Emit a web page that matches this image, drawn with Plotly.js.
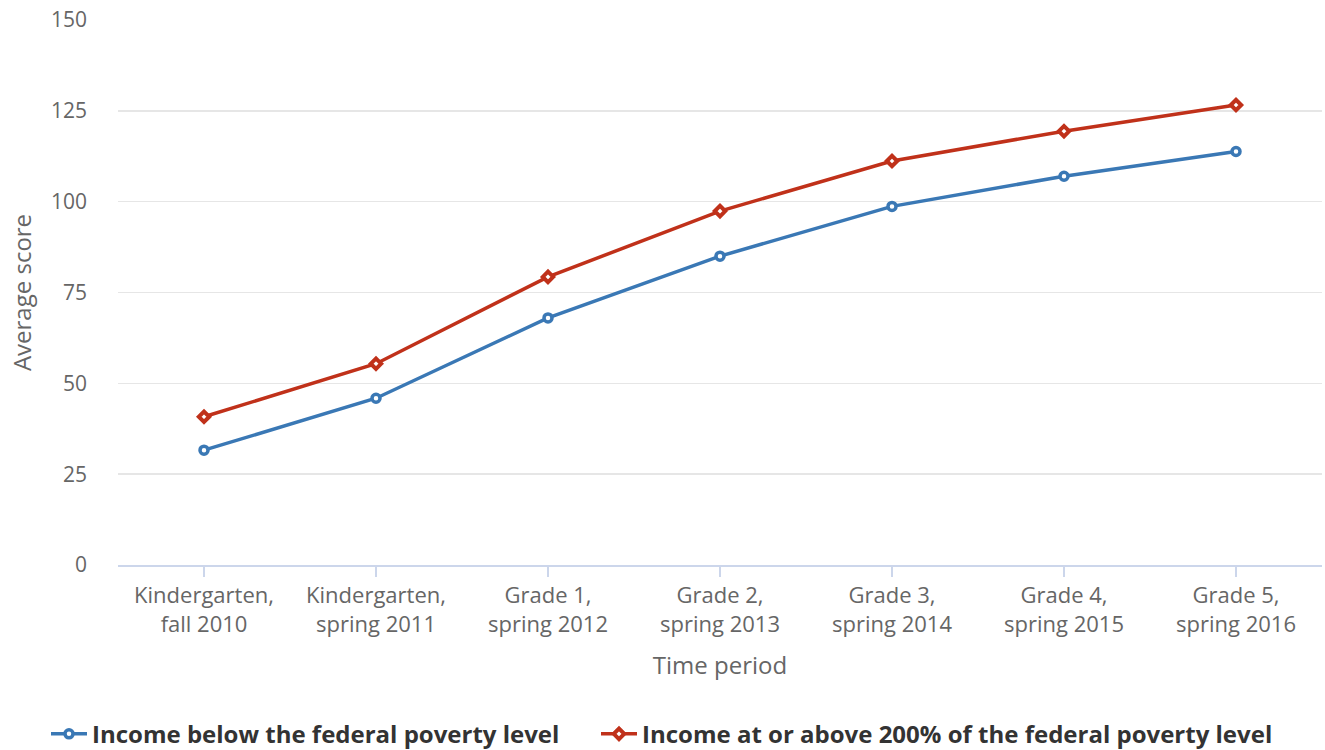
<!DOCTYPE html>
<html><head><meta charset="utf-8">
<script src="https://cdn.plot.ly/plotly-3.0.1.min.js"></script>
<style>body{margin:0;background:#fff}#c{width:1325px;height:750px}</style>
</head><body><div id="c"></div>
<script>
const categories = ["Kindergarten,<br>fall 2010","Kindergarten,<br>spring 2011","Grade 1,<br>spring 2012","Grade 2,<br>spring 2013","Grade 3,<br>spring 2014","Grade 4,<br>spring 2015","Grade 5,<br>spring 2016"];
const belowPoverty = [31.6, 45.9, 68.0, 85.0, 98.7, 107.0, 113.8];
const above200 = [40.8, 55.4, 79.3, 97.4, 111.2, 119.4, 126.6];
const seriesNames = ["Income below the federal poverty level","Income at or above 200% of the federal poverty level"];
const yTicks = [0,25,50,75,100,125,150];

const traces = [
 {x: categories, y: belowPoverty, name: seriesNames[0], type:'scatter', mode:'lines+markers', legend:'legend',
  line:{color:'#3a78b5', width:3.5},
  marker:{symbol:'circle', size:8, color:'#ffffff', line:{color:'#3a78b5', width:3.5}}},
 {x: categories, y: above200, name: seriesNames[1], type:'scatter', mode:'lines+markers', legend:'legend2',
  line:{color:'#c0311a', width:3.5},
  marker:{symbol:'diamond', size:8, color:'#ffffff', line:{color:'#c0311a', width:4}}}
];
const legendFont = {size:24, color:'#333333', weight:'bold'};
const layout = {
 width:1325, height:750,
 margin:{l:118, r:3, t:20, b:185},
 paper_bgcolor:'#fff', plot_bgcolor:'#fff',
 font:{family:'"Open Sans", sans-serif', color:'#666666', size:21},
 showlegend:true,
 legend:{orientation:'h', x:46/1325, xanchor:'left', xref:'container', y:0.021, yanchor:'middle', yref:'container',
   font:legendFont, itemwidth:36},
 legend2:{orientation:'h', x:596/1325, xanchor:'left', xref:'container', y:0.021, yanchor:'middle', yref:'container',
   font:legendFont, itemwidth:36},
 xaxis:{type:'category', range:[-0.5,6.5], showgrid:false, zeroline:false,
   showline:true, linecolor:'#ccd6eb', linewidth:1.5,
   ticks:'outside', ticklen:10, tickcolor:'#ccd6eb', tickwidth:1.5,
   tickfont:{size:22, color:'#666666'},
   title:{text:'Time period', font:{size:24, color:'#666666'}, standoff:20}},
 yaxis:{range:[0,150], tickvals:yTicks, showgrid:true, gridcolor:'#e6e6e6', gridwidth:1.5,
   zeroline:false, showline:false, ticks:'', ticklabelstandoff:30,
   tickfont:{size:21, color:'#666666'},
   title:{text:'Average score', font:{size:24, color:'#666666'}, standoff:12}}
};
Plotly.newPlot('c', traces, layout, {displayModeBar:false, staticPlot:true});
</script></body></html>
